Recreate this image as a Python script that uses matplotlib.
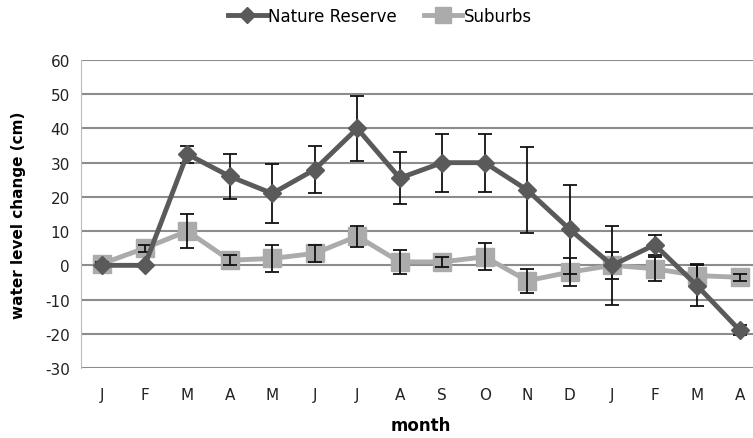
import matplotlib.pyplot as plt
import numpy as np

plt.switch_backend("agg")
plt.rcParams["axes.unicode_minus"] = False

months = ["J", "F", "M", "A", "M", "J", "J", "A", "S", "O", "N", "D", "J", "F", "M", "A"]
reserve = [0, 0, 32.5, 26, 21, 28, 40, 25.5, 30, 30, 22, 10.5, 0, 6, -6, -19]
reserve_err = [0.5, 0.5, 2.5, 6.5, 8.5, 7, 9.5, 7.5, 8.5, 8.5, 12.5, 13, 11.5, 3, 6, 1.5]
suburbs = [0.5, 5, 10, 1.5, 2, 3.5, 8.5, 1, 1, 2.5, -4.5, -2, 0, -1, -3, -3.5]
suburbs_err = [0.5, 1, 5, 1.5, 4, 2.5, 3, 3.5, 1.5, 4, 3.5, 4, 4, 3.5, 3.5, 1]

dark = "#5a5a5a"
light = "#ababab"

fig = plt.figure(figsize=(7.53, 4.39), dpi=100)
ax = fig.add_axes([81 / 753, (439 - 369) / 439, 680 / 753, 308 / 439])

x = np.arange(len(months))
ax.errorbar(x, reserve, yerr=reserve_err, fmt="none", ecolor="#111111",
            elinewidth=1.3, capsize=5, capthick=1.3, zorder=4)
ax.errorbar(x, suburbs, yerr=suburbs_err, fmt="none", ecolor="#111111",
            elinewidth=1.3, capsize=5, capthick=1.3, zorder=4)
ax.plot(x, reserve, color=dark, lw=3.5, marker="D", ms=9, label="Nature Reserve", zorder=5)
ax.plot(x, suburbs, color=light, lw=3.5, marker="s", ms=13, label="Suburbs", zorder=3)

ax.set_xlim(-0.5, len(months) - 0.5)
ax.set_ylim(-30, 60)
ax.set_yticks(np.arange(-30, 61, 10))
ax.set_xticks(x)
ax.set_xticklabels(months)
ax.tick_params(length=0, labelsize=11, colors="#222222")
ax.tick_params(axis="x", pad=14)
ax.tick_params(axis="y", pad=8)
ax.grid(axis="y", color="#8c8c8c", lw=1.5)
ax.set_axisbelow(True)
for s in ["top", "right", "bottom"]:
    ax.spines[s].set_visible(False)
ax.spines["left"].set_color("#bbbbbb")

ax.set_ylabel("water level change (cm)", fontsize=11, fontweight="bold", labelpad=14)
ax.set_xlabel("month", fontsize=12, fontweight="bold", labelpad=10)

fig.legend(loc="center", bbox_to_anchor=(380 / 753, 1 - 17 / 439), ncol=2,
           frameon=False, fontsize=12, handlelength=2.3, handletextpad=0.1,
           columnspacing=1.6, markerscale=0.9)

fig.savefig("out.png", dpi=100)
